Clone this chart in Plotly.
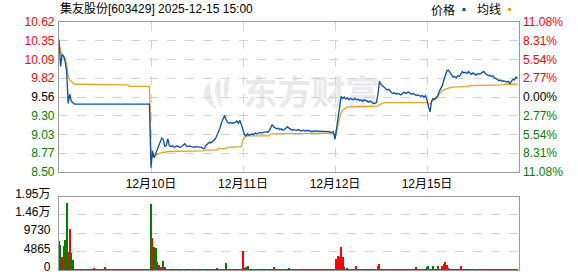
import plotly.graph_objects as go

# ---------------- data ----------------
title_text = "集友股份[603429] 2025-12-15 15:00"
pre_close = 9.56
pct_steps = [11.08, 8.31, 5.54, 2.77, 0.00, -2.77, -5.54, -8.31, -11.08]
price_tick_labels = ["10.62", "10.35", "10.09", "9.82", "9.56", "9.30", "9.03", "8.77", "8.50"]
pct_tick_labels = ["11.08%", "8.31%", "5.54%", "2.77%", "0.00%", "2.77%", "5.54%", "8.31%", "11.08%"]
vol_tick_values = [19460, 14595, 9730, 4865, 0]
vol_tick_labels = ["1.95万", "1.46万", "9730", "4865", "0"]
day_labels = ["12月10日", "12月11日", "12月12日", "12月15日"]
day_starts = [60, 120, 180, 240]
points_per_day = 60

price_d1 = [10.37, 9.99, 10.16, 10.14, 10.06, 9.92, 9.47, 9.60, 9.50, 9.48,
            9.46, 9.46, 9.46, 9.46, 9.46, 9.46, 9.46, 9.46, 9.46, 9.46,
            9.46, 9.46, 9.46, 9.46, 9.46, 9.46, 9.46, 9.46, 9.46, 9.46,
            9.46, 9.46, 9.46, 9.46, 9.46, 9.46, 9.46, 9.46, 9.46, 9.46,
            9.46, 9.46, 9.46, 9.46, 9.46, 9.46, 9.46, 9.46, 9.46, 9.46,
            9.46, 9.46, 9.46, 9.46, 9.46, 9.46, 9.46, 9.46, 9.46, 9.46]
price_d2 = [8.56, 8.80, 8.70, 8.76, 8.83, 8.88, 8.93, 8.98, 8.96, 8.86,
            8.88, 8.97, 8.87, 8.86, 8.87, 8.85, 8.86, 8.87, 8.86, 8.85,
            8.86, 8.88, 8.90, 8.87, 8.86, 8.87, 8.86, 8.86, 8.85, 8.86,
            8.86, 8.85, 8.86, 8.85, 8.83, 8.84, 8.88, 8.90, 8.92, 8.91,
            8.93, 8.95, 8.97, 9.02, 9.07, 9.12, 9.20, 9.24, 9.30, 9.24,
            9.20, 9.19, 9.20, 9.19, 9.19, 9.20, 9.22, 9.19, 9.23, 9.16]
price_d3 = [9.07, 9.03, 9.01, 9.04, 9.02, 9.03, 9.04, 9.03, 9.05, 9.04,
            9.05, 9.06, 9.05, 9.06, 9.06, 9.07, 9.06, 9.08, 9.12, 9.17,
            9.14, 9.12, 9.11, 9.12, 9.10, 9.11, 9.09, 9.10, 9.12, 9.14,
            9.12, 9.10, 9.09, 9.10, 9.09, 9.09, 9.10, 9.09, 9.08, 9.09,
            9.08, 9.08, 9.09, 9.08, 9.08, 9.07, 9.08, 9.08, 9.07, 9.08,
            9.08, 9.07, 9.08, 9.07, 9.07, 9.08, 9.07, 9.06, 9.07, 9.07]
price_d4 = [8.96, 9.10, 9.30, 9.40, 9.57, 9.54, 9.56, 9.53, 9.55, 9.52,
            9.54, 9.53, 9.52, 9.54, 9.52, 9.53, 9.51, 9.52, 9.50, 9.52,
            9.51, 9.50, 9.49, 9.50, 9.48, 9.47, 9.47, 9.48, 9.60, 9.78,
            9.74, 9.72, 9.70, 9.68, 9.66, 9.67, 9.64, 9.62, 9.61, 9.62,
            9.60, 9.61, 9.60, 9.59, 9.61, 9.63, 9.61, 9.62, 9.63, 9.61,
            9.60, 9.61, 9.59, 9.58, 9.59, 9.58, 9.57, 9.58, 9.56, 9.58]
price_d5 = [9.52, 9.42, 9.35, 9.50, 9.54, 9.53, 9.55, 9.58, 9.64, 9.68,
            9.72, 9.80, 9.88, 9.93, 9.94, 9.90, 9.86, 9.84, 9.85, 9.83,
            9.86, 9.85, 9.88, 9.92, 9.90, 9.91, 9.89, 9.92, 9.90, 9.88,
            9.90, 9.89, 9.87, 9.89, 9.88, 9.89, 9.91, 9.92, 9.89, 9.87,
            9.86, 9.87, 9.85, 9.86, 9.83, 9.82, 9.80, 9.79, 9.80, 9.78,
            9.79, 9.78, 9.77, 9.78, 9.75, 9.78, 9.81, 9.80, 9.84, 9.82]

avg_d1 = [10.30, 10.20, 10.14, 10.13, 10.11, 10.02, 9.85, 9.80, 9.78, 9.76,
          9.74, 9.74, 9.74, 9.74, 9.74, 9.74, 9.74, 9.74, 9.74, 9.74,
          9.74, 9.74, 9.74, 9.74, 9.73, 9.73, 9.73, 9.73, 9.73, 9.73,
          9.73, 9.73, 9.73, 9.73, 9.73, 9.73, 9.73, 9.73, 9.73, 9.73,
          9.73, 9.73, 9.73, 9.73, 9.73, 9.73, 9.71, 9.71, 9.71, 9.71,
          9.71, 9.71, 9.71, 9.71, 9.71, 9.71, 9.71, 9.71, 9.71, 9.71]
avg_d2 = [8.70, 8.72, 8.72, 8.74, 8.75, 8.76, 8.77, 8.78, 8.78, 8.78,
          8.79, 8.79, 8.79, 8.79, 8.79, 8.79, 8.79, 8.79, 8.79, 8.79,
          8.79, 8.79, 8.79, 8.79, 8.79, 8.80, 8.80, 8.80, 8.80, 8.80,
          8.80, 8.80, 8.80, 8.80, 8.80, 8.81, 8.81, 8.81, 8.81, 8.81,
          8.81, 8.81, 8.81, 8.81, 8.83, 8.83, 8.83, 8.83, 8.83, 8.83,
          8.85, 8.85, 8.85, 8.85, 8.85, 8.86, 8.86, 8.86, 8.86, 8.86]
avg_d3 = [8.96, 8.99, 9.01, 9.01, 9.01, 9.01, 9.01, 9.01, 9.01, 9.01,
          9.01, 9.01, 9.01, 9.01, 9.01, 9.01, 9.01, 9.01, 9.04, 9.04,
          9.04, 9.04, 9.04, 9.04, 9.04, 9.04, 9.04, 9.04, 9.04, 9.04,
          9.05, 9.05, 9.05, 9.05, 9.05, 9.05, 9.05, 9.05, 9.05, 9.05,
          9.05, 9.05, 9.05, 9.05, 9.05, 9.05, 9.05, 9.05, 9.05, 9.05,
          9.05, 9.05, 9.05, 9.05, 9.05, 9.05, 9.05, 9.05, 9.05, 9.05]
avg_d4 = [8.98, 9.05, 9.18, 9.28, 9.34, 9.37, 9.39, 9.40, 9.42, 9.42,
          9.42, 9.42, 9.42, 9.42, 9.42, 9.42, 9.42, 9.42, 9.42, 9.42,
          9.42, 9.42, 9.42, 9.42, 9.42, 9.42, 9.42, 9.42, 9.43, 9.45,
          9.46, 9.48, 9.48, 9.48, 9.48, 9.48, 9.48, 9.48, 9.48, 9.48,
          9.48, 9.48, 9.48, 9.48, 9.48, 9.48, 9.48, 9.48, 9.48, 9.48,
          9.48, 9.48, 9.48, 9.48, 9.48, 9.48, 9.48, 9.48, 9.48, 9.48]
avg_d5 = [9.48, 9.46, 9.46, 9.49, 9.51, 9.53, 9.54, 9.56, 9.60, 9.63,
          9.65, 9.66, 9.67, 9.68, 9.68, 9.70, 9.70, 9.70, 9.70, 9.70,
          9.70, 9.70, 9.70, 9.71, 9.71, 9.71, 9.71, 9.71, 9.72, 9.72,
          9.72, 9.72, 9.72, 9.73, 9.73, 9.73, 9.73, 9.73, 9.73, 9.73,
          9.73, 9.73, 9.73, 9.73, 9.73, 9.73, 9.73, 9.73, 9.73, 9.73,
          9.73, 9.74, 9.74, 9.74, 9.74, 9.74, 9.74, 9.74, 9.74, 9.74]

vol_d1 = [7930, 6670, 3510, 6400, 8020, 17930, 4865, 10900, 4600, 2790,
          500, 250, 250, 250, 250, 250, 250, 250, 250, 250,
          250, 250, 250, 550, 250, 250, 250, 250, 250, 250,
          1000, 250, 250, 250, 250, 250, 250, 250, 250, 250,
          250, 250, 250, 250, 250, 250, 350, 250, 250, 250,
          250, 250, 250, 250, 250, 250, 250, 250, 250, 300]
vol_d2 = [17660, 8650, 6220, 6040, 2160, 1440, 900, 990, 2400, 800,
          400, 500, 400, 250, 250, 300, 250, 250, 250, 250,
          250, 250, 250, 250, 250, 300, 250, 250, 250, 250,
          250, 250, 250, 250, 400, 250, 250, 250, 300, 250,
          250, 250, 250, 600, 250, 400, 250, 250, 300, 2000,
          400, 250, 250, 250, 200, 250, 250, 250, 250, 400]
vol_d3 = [5140, 540, 810, 1260, 400, 250, 250, 300, 250, 250,
          250, 250, 250, 400, 250, 250, 250, 400, 250, 250,
          1000, 250, 250, 250, 250, 250, 200, 250, 250, 250,
          540, 400, 250, 250, 250, 250, 250, 250, 250, 250,
          250, 250, 250, 250, 250, 250, 250, 250, 250, 250,
          250, 250, 250, 250, 250, 250, 250, 250, 250, 360]
vol_d4 = [400, 3060, 3960, 3500, 6200, 3500, 800, 400, 600, 360,
          250, 250, 250, 250, 1260, 250, 250, 250, 250, 250,
          250, 250, 250, 250, 250, 250, 250, 250, 1080, 1710,
          360, 250, 250, 250, 250, 250, 250, 250, 250, 250,
          250, 250, 250, 250, 250, 250, 250, 250, 250, 250,
          250, 250, 250, 810, 250, 250, 250, 250, 250, 250]
vol_d5 = [810, 1260, 400, 250, 1080, 250, 250, 1260, 250, 250,
          1260, 1800, 2340, 1400, 540, 250, 250, 250, 250, 250,
          250, 250, 1260, 250, 250, 250, 250, 200, 250, 250,
          250, 250, 250, 250, 250, 250, 250, 360, 250, 250,
          250, 250, 250, 250, 250, 250, 250, 250, 250, 250,
          250, 250, 250, 250, 250, 360, 300, 360, 200, 250]

# u = up (red), d = down (green)
side_d1 = ("ududdduudd" "uuuuuuuuuu" "uuuuuuuuuu" "uuuuuuuuuu" "uuuuuuuuuu" "uuuuuuuuuu")
side_d2 = ("duddduuddu" "dddu" "uduuuu" "uuuuuduuuu" "uuuuduuudu" "uuuduuuudd" "uuuuduuudu")
side_d3 = ("ududu" "uuuuu" "uuuduuuuuu" "uuuuuuduuu" "dduuuuuduu" "uuuuuuuuuu" "uuuuuuuuuu")
side_d4 = ("uuuuuududu" "uuuuuuuuuu" "uuuuuuuuuu" "duuuuuuuuu" "uuuuuuuuuu" "uuuuuuuuuu")
side_d5 = ("dddudu" "udu" "u" "uuuuuuuuuu" "uuuuuuuduu" "uuuuuuuuuu" "uuuuuuuuuu" "uuuuuuuuuu")

price = price_d1 + price_d2 + price_d3 + price_d4 + price_d5
avg = avg_d1 + avg_d2 + avg_d3 + avg_d4 + avg_d5
volume = vol_d1 + vol_d2 + vol_d3 + vol_d4 + vol_d5
side = side_d1 + side_d2 + side_d3 + side_d4 + side_d5
x = list(range(len(price)))
n_total = points_per_day * 5

# ---------------- styling ----------------
RED = "#ff0000"
GREEN = "#008000"
BLUE = "#0b4fa3"
GOLD = "#e0a526"
FONT = "Liberation Sans, Arial, Noto Sans CJK SC, sans-serif"
GRID = "#d2d2d2"
BORDER = "#9a9a9a"
WATERMARK = "#e9e9eb"

price_tickvals = [pre_close * (1 + p / 100) for p in pct_steps]


def colored(labels, steps):
    out = []
    for lab, p in zip(labels, steps):
        c = RED if p > 0 else (GREEN if p < 0 else "#000000")
        out.append(f"<span style='color:{c}'>{lab}</span>")
    return out


bar_colors = [RED if s == "u" else GREEN for s in side]

fig = go.Figure()
fig.add_trace(go.Bar(x=x, y=volume, marker_color=bar_colors, marker_line_width=0,
                     width=0.72, xaxis="x2", yaxis="y3", showlegend=False))
fig.add_trace(go.Scatter(x=x, y=avg, mode="lines", line=dict(color=GOLD, width=1.3),
                         xaxis="x", yaxis="y", showlegend=False))
fig.add_trace(go.Scatter(x=x, y=price, mode="lines", line=dict(color=BLUE, width=1.3),
                         xaxis="x", yaxis="y", showlegend=False))
# invisible trace to activate right axis
fig.add_trace(go.Scatter(x=[x[0]], y=[price[0]], mode="markers", marker=dict(opacity=0),
                         xaxis="x", yaxis="y2", showlegend=False, hoverinfo="skip"))

W, H = 578, 276
ml, mr, mt, mb = 59, 59, 22, 6
ph = H - mt - mb
main_bottom = (H - mb - 172) / ph
vol_top = (H - mb - 196.5) / ph

common_axis = dict(showline=True, mirror=True, linecolor=BORDER, linewidth=1.2,
                   zeroline=False, ticks="", fixedrange=True, automargin=False)

fig.update_layout(
    width=W, height=H,
    margin=dict(l=ml, r=mr, t=mt, b=mb, autoexpand=False),
    paper_bgcolor="white", plot_bgcolor="white",
    font=dict(family=FONT, size=12, color="#000000"),
    bargap=0,
    xaxis=dict(domain=[0, 1], range=[0, n_total], anchor="y",
               tickvals=day_starts, ticktext=day_labels,
               showgrid=True, gridcolor=GRID, griddash="dash", gridwidth=1,
               tickfont=dict(size=12, color="#000000"), **common_axis),
    yaxis=dict(domain=[main_bottom, 1], range=[price_tickvals[-1], price_tickvals[0]],
               anchor="x", tickvals=price_tickvals,
               ticktext=colored(price_tick_labels, pct_steps),
               showgrid=True, gridcolor=GRID, griddash="dash", gridwidth=1,
               tickfont=dict(size=12), ticklabelstandoff=1, **common_axis),
    yaxis2=dict(overlaying="y", side="right", anchor="x",
                range=[price_tickvals[-1], price_tickvals[0]],
                tickvals=price_tickvals, ticktext=colored(pct_tick_labels, pct_steps),
                showgrid=False, zeroline=False, ticks="", showline=False,
                tickfont=dict(size=12), ticklabelstandoff=3, fixedrange=True,
                automargin=False),
    xaxis2=dict(domain=[0, 1], range=[0, n_total], anchor="y3", matches="x",
                showticklabels=False, showgrid=False, layer="below traces",
                **common_axis),
    yaxis3=dict(domain=[0, vol_top], range=[0, vol_tick_values[0]], anchor="x2",
                tickvals=vol_tick_values, ticktext=vol_tick_labels,
                showgrid=True, gridcolor=GRID, griddash="dash", gridwidth=1,
                tickfont=dict(size=12, color="#000000"), ticklabelstandoff=5,
                ticklabelshift=-3, layer="below traces", **common_axis),
)


def px_x(p):
    return (p - ml) / (W - ml - mr)


def px_y(p):
    return (H - mb - p) / ph


def petal(top, bottom, c_out, c_in):
    pts = [px_x(top[0]), px_y(top[1]), px_x(c_out[0]), px_y(c_out[1]),
           px_x(bottom[0]), px_y(bottom[1]), px_x(c_in[0]), px_y(c_in[1])]
    return ("M {:.4f} {:.4f} Q {:.4f} {:.4f} {:.4f} {:.4f} Q {:.4f} {:.4f} {:.4f} {:.4f} Z"
            .format(pts[0], pts[1], pts[2], pts[3], pts[4], pts[5], pts[6], pts[7],
                    pts[0], pts[1]))


annotations = [
    dict(text=title_text, x=px_x(58), y=px_y(9), xref="paper", yref="paper",
         xanchor="left", yanchor="middle", showarrow=False,
         font=dict(size=12, color="#000000", family=FONT)),
    dict(text="价格", x=px_x(443), y=px_y(10.5), xref="paper", yref="paper",
         xanchor="center", yanchor="middle", showarrow=False,
         font=dict(size=12, color="#000000", family=FONT)),
    dict(text="均线", x=px_x(488.5), y=px_y(10.5), xref="paper", yref="paper",
         xanchor="center", yanchor="middle", showarrow=False,
         font=dict(size=12, color="#000000", family=FONT)),
]
fig.update_layout(annotations=annotations)

shapes = [
    dict(type="rect", xref="paper", yref="paper",
         x0=px_x(462.5), x1=px_x(465.5), y0=px_y(11), y1=px_y(8),
         fillcolor=BLUE, line_width=0),
    dict(type="rect", xref="paper", yref="paper",
         x0=px_x(508), x1=px_x(511), y0=px_y(11), y1=px_y(8),
         fillcolor=GOLD, line_width=0),
    dict(type="rect", xref="paper", yref="paper", layer="below",
         x0=px_x(240), x1=px_x(383), y0=px_y(113), y1=px_y(77),
         fillcolor="rgba(0,0,0,0)", line_width=0,
         label=dict(text="<b>东方财富</b>", textposition="middle center",
                    font=dict(size=34, color=WATERMARK,
                              family="Noto Sans CJK SC"))),
    dict(type="path", xref="paper", yref="paper", layer="below", line_width=0,
         fillcolor=WATERMARK, path=petal((210, 82), (217, 110), (195, 96), (209, 96))),
    dict(type="path", xref="paper", yref="paper", layer="below", line_width=0,
         fillcolor=WATERMARK, path=petal((220, 77), (222, 108), (209, 90), (220, 92))),
    dict(type="path", xref="paper", yref="paper", layer="below", line_width=0,
         fillcolor=WATERMARK, path=petal((229, 75), (226, 100), (220, 84), (230, 88))),
]
fig.update_layout(shapes=shapes)

fig.write_html("out.html")
